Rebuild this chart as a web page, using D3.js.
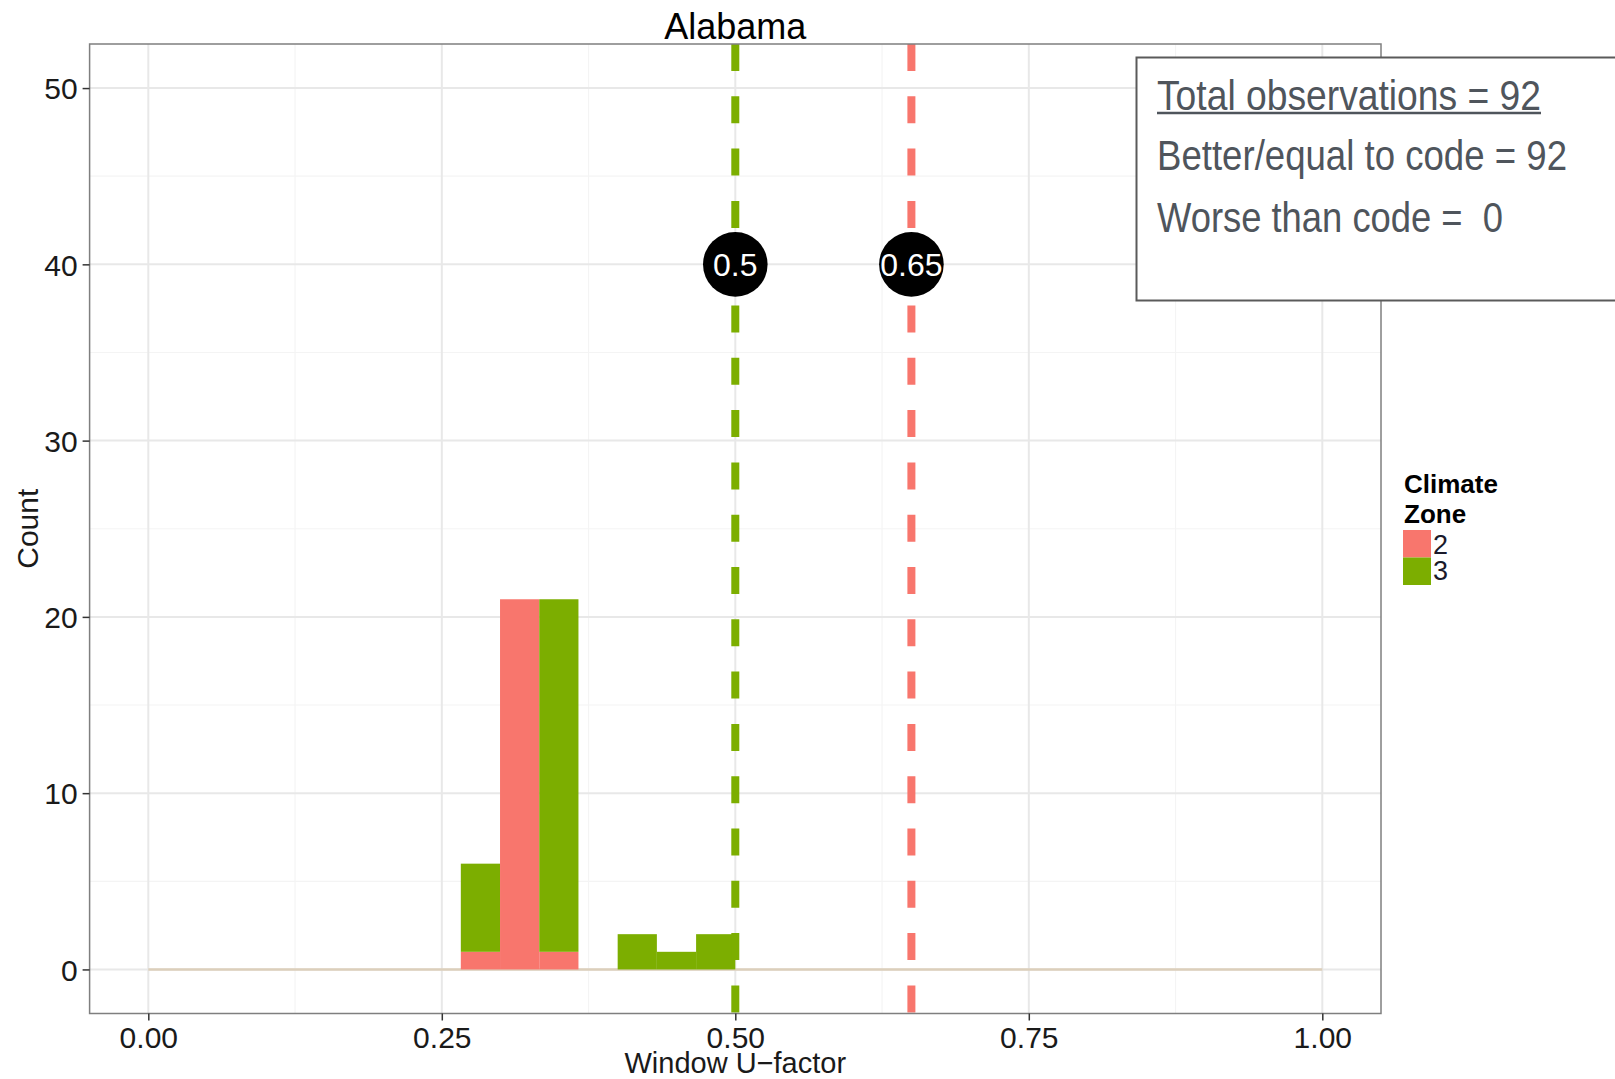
<!DOCTYPE html>
<html><head><meta charset="utf-8">
<script src="https://cdn.jsdelivr.net/npm/d3@7"></script>
<style>html,body{margin:0;padding:0;background:#fff;overflow:hidden} text{white-space:pre}</style>
</head><body>
<svg id="chart" width="1615" height="1079"></svg>
<script>
// ---- data ----
const title = "Alabama";
const xLabel = "Window U\u2212factor";
const yLabel = "Count";
const binEdgesLeft = [0.2662, 0.2996, 0.3330, 0.3998, 0.4332, 0.4666];
const binWidth = 0.0334;
const zone2Counts = [1, 21, 1, 0, 0, 0];
const zone3Counts = [5, 0, 20, 2, 1, 2];
const zones = ["2", "3"];
const zoneColors = ["#F8766D", "#7CAE00"];
const codeLines = [0.5, 0.65];
const codeLineZone = ["3", "2"];
const codeLabels = ["0.5", "0.65"];
const labelY = 40;
const xTicks = [0, 0.25, 0.5, 0.75, 1];
const xTickLabels = ["0.00", "0.25", "0.50", "0.75", "1.00"];
const xMinor = [0.125, 0.375, 0.625, 0.875];
const yTicks = [0, 10, 20, 30, 40, 50];
const yMinor = [5, 15, 25, 35, 45];
const summaryLines = ["Total observations = 92", "Better/equal to code = 92", "Worse than code =  0"];
const legendTitle = ["Climate", "Zone"];

// ---- layout ----
const svg = d3.select("#chart");
const P = {l: 89.6, r: 1381, t: 44, b: 1013.5};
const x = d3.scaleLinear().domain([-0.05, 1.05]).range([P.l, P.r]);
const y = d3.scaleLinear().domain([-2.5, 52.5]).range([P.b, P.t]);
const color = d3.scaleOrdinal().domain(zones).range(zoneColors);
const font = "'Liberation Sans', Arial, sans-serif";

// panel background
svg.append("rect").attr("x", P.l).attr("y", P.t).attr("width", P.r - P.l).attr("height", P.b - P.t).attr("fill", "#fff");

// grid
const g = svg.append("g");
g.selectAll(".xmin").data(xMinor).enter().append("line")
  .attr("x1", d => x(d)).attr("x2", d => x(d)).attr("y1", P.t).attr("y2", P.b)
  .attr("stroke", "#f4f4f4").attr("stroke-width", 1.2);
g.selectAll(".ymin").data(yMinor).enter().append("line")
  .attr("y1", d => y(d)).attr("y2", d => y(d)).attr("x1", P.l).attr("x2", P.r)
  .attr("stroke", "#f4f4f4").attr("stroke-width", 1.2);
g.selectAll(".xmaj").data(xTicks).enter().append("line")
  .attr("x1", d => x(d)).attr("x2", d => x(d)).attr("y1", P.t).attr("y2", P.b)
  .attr("stroke", "#e8e8e8").attr("stroke-width", 2);
g.selectAll(".ymaj").data(yTicks).enter().append("line")
  .attr("y1", d => y(d)).attr("y2", d => y(d)).attr("x1", P.l).attr("x2", P.r)
  .attr("stroke", "#e8e8e8").attr("stroke-width", 2);

// zero baseline
svg.append("line").attr("x1", x(0)).attr("x2", x(1)).attr("y1", y(0)).attr("y2", y(0))
  .attr("stroke", "#dccfbb").attr("stroke-width", 2.5);

// stacked bars (zone 2 bottom, zone 3 top)
const bars = binEdgesLeft.map((b, i) => ({x0: b, x1: b + binWidth, c2: zone2Counts[i], c3: zone3Counts[i]}));
const bg = svg.append("g");
bars.forEach(d => {
  if (d.c2 > 0) bg.append("rect").attr("x", x(d.x0)).attr("width", x(d.x1) - x(d.x0))
    .attr("y", y(d.c2)).attr("height", y(0) - y(d.c2)).attr("fill", color("2"));
  if (d.c3 > 0) bg.append("rect").attr("x", x(d.x0)).attr("width", x(d.x1) - x(d.x0))
    .attr("y", y(d.c2 + d.c3)).attr("height", y(d.c2) - y(d.c2 + d.c3)).attr("fill", color("3"));
});

// code lines
svg.selectAll(".vline").data(codeLines).enter().append("line")
  .attr("x1", d => x(d)).attr("x2", d => x(d)).attr("y1", P.t).attr("y2", P.b)
  .attr("stroke", (d, i) => color(codeLineZone[i])).attr("stroke-width", 8)
  .attr("stroke-dasharray", "27 25.3");

// labels in circles
codeLines.forEach((v, i) => {
  svg.append("circle").attr("cx", x(v)).attr("cy", y(labelY)).attr("r", 32.3).attr("fill", "#000");
  svg.append("text").attr("x", x(v)).attr("y", y(labelY) + 11.5).attr("text-anchor", "middle")
    .attr("font-family", font).attr("font-size", 32).attr("fill", "#fff").text(codeLabels[i]);
});

// panel border
svg.append("rect").attr("x", P.l).attr("y", P.t).attr("width", P.r - P.l).attr("height", P.b - P.t)
  .attr("fill", "none").attr("stroke", "#7f7f7f").attr("stroke-width", 1.5);

// axes
const xAxis = svg.append("g").attr("transform", `translate(0,${P.b})`)
  .call(d3.axisBottom(x).tickValues(xTicks).tickFormat((d, i) => xTickLabels[i]).tickSize(7).tickPadding(6));
const yAxis = svg.append("g").attr("transform", `translate(${P.l},0)`)
  .call(d3.axisLeft(y).tickValues(yTicks).tickFormat(d3.format("d")).tickSize(7).tickPadding(5));
[xAxis, yAxis].forEach(a => {
  a.select(".domain").remove();
  a.selectAll(".tick line").attr("stroke", "#333").attr("stroke-width", 1.5);
  a.selectAll(".tick text").attr("font-family", font).attr("font-size", 30).attr("fill", "#1a1a1a");
});
xAxis.selectAll(".tick text").attr("dy", "0.71em");
yAxis.selectAll(".tick text").attr("dy", "0.36em");

// titles
svg.append("text").attr("x", (P.l + P.r) / 2).attr("y", 39).attr("text-anchor", "middle")
  .attr("font-family", font).attr("font-size", 36).attr("fill", "#000").text(title);
svg.append("text").attr("x", (P.l + P.r) / 2).attr("y", 1073).attr("text-anchor", "middle")
  .attr("font-family", font).attr("font-size", 29).attr("fill", "#1a1a1a").text(xLabel);
svg.append("text").attr("transform", `translate(38,${(P.t + P.b) / 2}) rotate(-90)`).attr("text-anchor", "middle")
  .attr("font-family", font).attr("font-size", 30).attr("fill", "#1a1a1a").text(yLabel);

// legend
const lg = svg.append("g");
legendTitle.forEach((t, i) => lg.append("text").attr("x", 1404).attr("y", 493 + i * 30)
  .attr("font-family", font).attr("font-weight", "bold").attr("font-size", 26).attr("fill", "#000").text(t));
zones.forEach((z, i) => {
  lg.append("rect").attr("x", 1403).attr("y", 530 + i * 27.5).attr("width", 28).attr("height", 27.5).attr("fill", color(z));
  lg.append("text").attr("x", 1433).attr("y", 554 + i * 26).attr("font-family", font).attr("font-size", 27)
    .attr("fill", "#1a1a2a").text(z);
});

// summary box
svg.append("rect").attr("x", 1136.5).attr("y", 57.5).attr("width", 520).attr("height", 243)
  .attr("fill", "#fff").attr("stroke", "#5a5a5a").attr("stroke-width", 2);
const sumX = 1157, sumY = [109.5, 170, 231.5], sumW = [384, 410, 346];
summaryLines.forEach((t, i) => svg.append("text").attr("x", sumX).attr("y", sumY[i])
  .attr("font-family", "'Liberation Sans Narrow', 'Liberation Sans', Arial, sans-serif").attr("font-size", 42)
  .attr("fill", "#4f555c").attr("textLength", sumW[i]).attr("lengthAdjust", "spacingAndGlyphs")
  .attr("xml:space", "preserve").text(t));
svg.append("line").attr("x1", sumX).attr("x2", sumX + sumW[0]).attr("y1", 113).attr("y2", 113)
  .attr("stroke", "#4f555c").attr("stroke-width", 2.5);
</script>
</body></html>
